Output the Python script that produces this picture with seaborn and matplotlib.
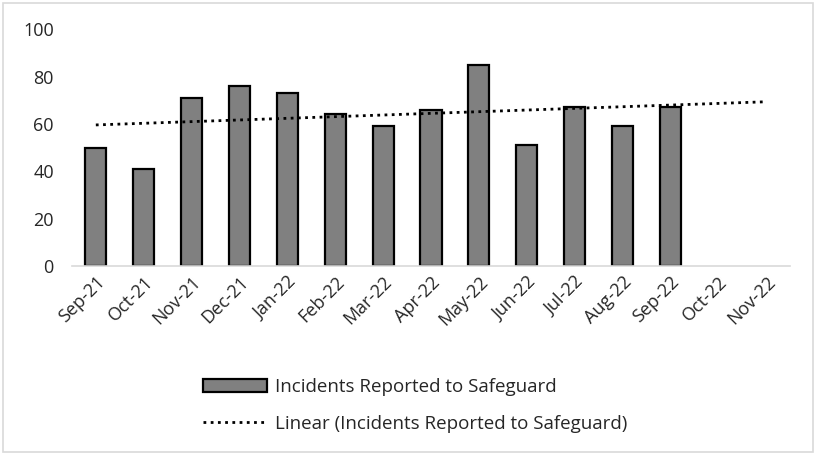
import numpy as np
import pandas as pd
import matplotlib
matplotlib.use('Agg')
import matplotlib.pyplot as plt
import seaborn as sns
from matplotlib.patches import Rectangle
from matplotlib.ticker import FixedLocator

# Data
months = ['Sep-21', 'Oct-21', 'Nov-21', 'Dec-21', 'Jan-22', 'Feb-22', 'Mar-22',
          'Apr-22', 'May-22', 'Jun-22', 'Jul-22', 'Aug-22', 'Sep-22', 'Oct-22', 'Nov-22']
incidents = [50, 41, 71, 76, 73, 64, 59, 66, 85, 51, 67, 59, 67, np.nan, np.nan]
series_name = 'Incidents Reported to Safeguard'

df = pd.DataFrame({'month': months, 'incidents': incidents})

sns.set_style('white')
plt.rcParams['font.family'] = ['Open Sans', 'DejaVu Sans']

fig = plt.figure(figsize=(8.17, 4.55), dpi=100)
ax = fig.add_axes([0.088, 0.415, 0.879, 0.521])

sns.barplot(data=df.dropna(), x='month', y='incidents', order=months,
            color='#808080', saturation=1, width=0.44, edgecolor='black',
            linewidth=1.6, ax=ax, label=series_name)

# Linear trend fitted on the observed months, extended across all categories
obs = df['incidents'].notna().to_numpy()
xpos = np.arange(len(months))
slope, intercept = np.polyfit(xpos[obs], df['incidents'][obs], 1)
ax.plot(xpos, slope * xpos + intercept, color='black', linestyle=(0, (1, 1.6)),
        linewidth=2, label=f'Linear ({series_name})')

ax.set_ylim(0, 100)
ax.set_xlim(-0.5, len(months) - 0.5)
ax.set_yticks([0, 20, 40, 60, 80, 100])
ax.set_xlabel('')
ax.set_ylabel('')

for s in ['top', 'right', 'left']:
    ax.spines[s].set_visible(False)
ax.spines['bottom'].set_color('#d9d9d9')
ax.spines['bottom'].set_linewidth(1.2)

ax.tick_params(axis='y', length=0, labelsize=13, pad=13)
ax.tick_params(axis='x', which='major', length=0, labelsize=13, pad=5)
ax.xaxis.set_minor_locator(FixedLocator(np.arange(-0.5, len(months), 1.0)))
ax.tick_params(axis='x', which='minor', length=5, width=1.2, color='#d9d9d9')
plt.setp(ax.get_xticklabels(), rotation=45, ha='right', rotation_mode='anchor')

handles, labels = ax.get_legend_handles_labels()
order = [labels.index(series_name), labels.index(f'Linear ({series_name})')]
ax.legend([handles[i] for i in order], [labels[i] for i in order],
          loc='upper center', bbox_to_anchor=(0.478, -0.40), ncol=1, frameon=False,
          fontsize=13.5, handlelength=3.4, labelspacing=1.0, handletextpad=0.4)

# Chart border
fig.patches.append(Rectangle((0.004, 0.006), 0.991, 0.988, transform=fig.transFigure,
                             fill=False, edgecolor='#d9d9d9', linewidth=1.2))

plt.savefig('out.png', dpi=100)
plt.close()
